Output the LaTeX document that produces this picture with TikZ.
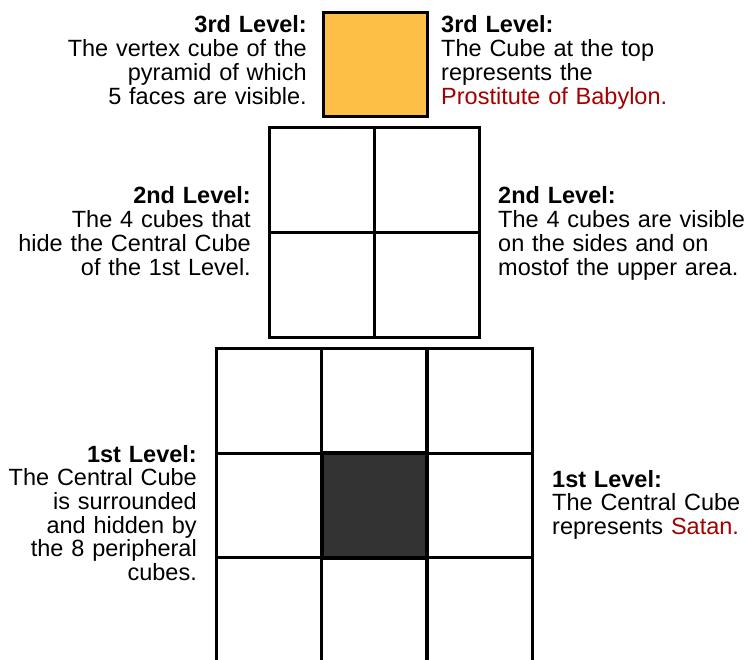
\documentclass[tikz,border=0pt]{standalone}
\usepackage{fontspec}
\setmainfont{Liberation Sans}
\definecolor{cubeorange}{HTML}{FDBF45}
\definecolor{cubedark}{HTML}{333333}
\definecolor{textred}{HTML}{A30000}
\tikzset{
  cell/.style={draw=black, line width=3pt, fill=white, minimum width=105pt, minimum height=105pt, inner sep=0pt, anchor=center},
  lbl/.style={inner sep=0pt, text width=300pt, font=\fontsize{23.5}{23.7}\selectfont},
  lblL/.style={lbl, align=right, anchor=base east},
  lblR/.style={lbl, align=left, anchor=base west}
}
\begin{document}
\begin{tikzpicture}[x=1pt,y=-1pt]
\useasboundingbox (0,0) rectangle (747,660);
\clip (0,0) rectangle (747,660);
\fill[white] (0,0) rectangle (747,660);
% top cube
\node[cell, fill=cubeorange, minimum width=104pt, minimum height=104pt] (top) at (375,65) {};
% middle grid
\node[cell] (m11) at (322,180) {};
\node[cell] (m12) at (427,180) {};
\node[cell] (m21) at (322,285) {};
\node[cell] (m22) at (427,285) {};
% bottom grid
\node[cell] (b11) at (269,401) {};
\node[cell] (b12) at (374,401) {};
\node[cell] (b13) at (479.5,401) {};
\node[cell] (b21) at (269,505.5) {};
\node[cell] (b23) at (479.5,505.5) {};
\node[cell] (b31) at (269,610) {};
\node[cell] (b32) at (374,610) {};
\node[cell] (b33) at (479.5,610) {};
\node[cell, fill=cubedark, line width=4pt] (b22) at (374,505.5) {};
% labels
\node[lblL] (t3l) at (307,33) {\textbf{3rd Level:}\\The vertex cube of the\\pyramid of which\\5 faces are visible.};
\node[lblR] (t3r) at (441,33) {\textbf{3rd Level:}\\The Cube at the top\\represents the\\\textcolor{textred}{Prostitute of Babylon.}};
\node[lblL] (t2l) at (251,204) {\textbf{2nd Level:}\\The 4 cubes that\\hide the Central Cube\\of the 1st Level.};
\node[lblR] (t2r) at (498,204) {\textbf{2nd Level:}\\The 4 cubes are visible\\on the sides and on\\mostof the upper area.};
\node[lblL] (t1l) at (197,462) {\textbf{1st Level:}\\The Central Cube\\is surrounded\\and hidden by\\the 8 peripheral\\cubes.};
\node[lblR] (t1r) at (552,487) {\textbf{1st Level:}\\The Central Cube\\represents \textcolor{textred}{Satan.}};
\end{tikzpicture}
\end{document}
